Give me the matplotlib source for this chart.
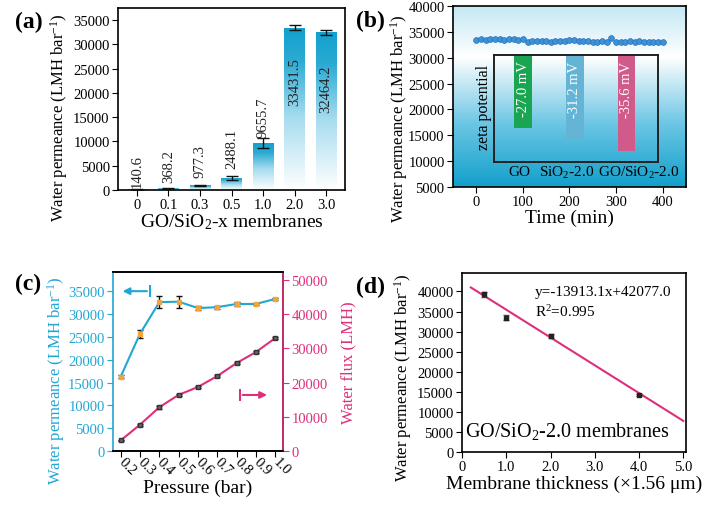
import numpy as np
import matplotlib
matplotlib.use('Agg')
import matplotlib.pyplot as plt
from matplotlib.colors import LinearSegmentedColormap

plt.rcParams['font.family'] = ['Liberation Serif', 'DejaVu Serif']
plt.rcParams['mathtext.fontset'] = 'custom'
plt.rcParams['mathtext.rm'] = 'Liberation Serif'
plt.rcParams['mathtext.it'] = 'Liberation Serif:italic'
plt.rcParams['mathtext.default'] = 'regular'
plt.rcParams['font.size'] = 10.5
plt.rcParams['axes.linewidth'] = 1.2
plt.rcParams['xtick.major.size'] = 4
plt.rcParams['ytick.major.size'] = 4
plt.rcParams['xtick.major.pad'] = 2
plt.rcParams['ytick.major.pad'] = 2

# ---- (a) permeance of GO/SiO2-x membranes
membranes = ['0', '0.1', '0.3', '0.5', '1.0', '2.0', '3.0']
perm_a = [140.6, 368.2, 977.3, 2488.1, 9655.7, 33431.5, 32464.2]
err_a = [50, 100, 150, 450, 1000, 500, 500]

# ---- (b) long-term test + zeta potential
time_b = list(range(0, 401, 10))
perm_b = [33500, 33700, 33400, 33600, 33600, 33600, 33500, 33600, 33700, 33500,
          33700, 33100, 33200, 33200, 33150, 33200, 33100, 33200, 33300, 33250,
          33400, 33500, 33300, 33150, 33200, 33100, 33000, 33200, 33000, 33900,
          33000, 33100, 33100, 33150, 33100, 33200, 33100, 33000, 33000, 33000,
          33000]
zeta_names = ['GO', 'SiO$_2$-2.0', 'GO/SiO$_2$-2.0']
zeta_vals = [-27.0, -31.2, -35.6]

# ---- (c) pressure dependence
pressure = [0.2, 0.3, 0.4, 0.5, 0.6, 0.7, 0.8, 0.9, 1.0]
perm_c = [16300, 25700, 32600, 32700, 31300, 31500, 32200, 32200, 33300]
err_c = [300, 900, 1300, 1300, 500, 300, 500, 300, 200]
flux_c = [3100, 7700, 12800, 16400, 18700, 21900, 25700, 28900, 33000]
flux_err = [200, 300, 400, 400, 300, 300, 400, 300, 300]

# ---- (d) thickness dependence
thickness = [0.5, 1.0, 2.0, 4.0]
perm_d = [39300, 33500, 28800, 14200]
err_d = [600, 600, 500, 200]
fit_x = [0.2, 5.0]
fit_y = [41000, 7750]

blue = '#22a6d3'
pink = '#de2f7c'
perm_label = 'Water permeance (LMH bar$^{-1}$)'
ylab_fs = 12
xlab_fs = 14

fig = plt.figure(figsize=(7.08, 5.06), dpi=100)

# ================= (a)
ax = fig.add_axes([0.1667, 0.6225, 0.3206, 0.3597])
xa = np.arange(len(membranes))
bar_cmap = LinearSegmentedColormap.from_list(
    'barfade', [(0, '#ffffff'), (0.45, '#a6dcef'), (0.8, '#2aaad3'), (1, '#12a1cd')])
grad = np.linspace(0, 1, 256).reshape(-1, 1)
bars = ax.bar(xa, perm_a, width=0.65, color='none', edgecolor='none')
for b in bars:
    im = ax.imshow(grad, extent=[b.get_x(), b.get_x() + b.get_width(), 0, b.get_height()],
                   origin='lower', cmap=bar_cmap, aspect='auto', zorder=1)
    im.set_clip_path(b)
ax.errorbar(xa, perm_a, yerr=err_a, fmt='none', ecolor='#111', capsize=4,
            elinewidth=1, capthick=1, zorder=3)
label_y = [700, 1600, 2700, 4600, 11000, 27300, 25900]
for i, v in enumerate(perm_a):
    va = 'bottom' if i < 5 else 'top'
    ax.text(xa[i], label_y[i], f'{v}', rotation=90, ha='center', va=va,
            fontsize=10.5, color='#222', zorder=4)
ax.set_xlim(-0.6, 6.6)
ax.set_ylim(0, 37500)
ax.set_xticks(xa)
ax.set_xticklabels(membranes)
ax.set_yticks(range(0, 35001, 5000))
ax.set_xlabel('GO/SiO$_2$-x membranes', fontsize=xlab_fs, labelpad=0)
ax.set_ylabel(perm_label, fontsize=ylab_fs, labelpad=2, y=0.40)

# ================= (b)
ax = fig.add_axes([0.6398, 0.6285, 0.3291, 0.3577])
bg_cmap = LinearSegmentedColormap.from_list(
    'bgfade', [(0, '#12a0cb'), (0.35, '#6cc6e4'), (0.72, '#ffffff'), (1, '#c4e8f4')])
ax.imshow(grad, extent=[0, 1, 0, 1], transform=ax.transAxes, origin='lower',
          cmap=bg_cmap, aspect='auto', zorder=0)
ax.plot(time_b, perm_b, 'o', ms=4.2, color='#3b92d8', mec='#2a72b8', mew=0.5, zorder=3)
ax.set_xlim(-50, 450)
ax.set_ylim(5000, 40000)
ax.set_xticks([0, 100, 200, 300, 400])
ax.set_yticks(range(5000, 40001, 5000))
ax.set_xlabel('Time (min)', fontsize=xlab_fs, labelpad=0)
ax.set_ylabel(perm_label, fontsize=ylab_fs, labelpad=-1, y=0.38)

ins = ax.inset_axes([37, 9870, 353, 20720], transform=ax.transData)
ins.patch.set_alpha(0)
for s in ins.spines.values():
    s.set_linewidth(1.4)
    s.set_color('#222')
zeta_colors = ['#1aa553', '#64b4d6', '#d05a89']
zx = np.arange(len(zeta_vals))
ins.bar(zx, zeta_vals, width=0.344, color=zeta_colors)
for i, v in enumerate(zeta_vals):
    ins.text(zx[i], -2.2, f'{v:.1f} mV', rotation=90, ha='center', va='top',
             color='white', fontsize=10.5)
ins.set_xlim(-0.577, 2.609)
ins.set_ylim(-39.6, 0)
ins.set_xticks([])
ins.set_yticks([])
ax.text(17, 20620, 'zeta potential', rotation=90, ha='center', va='center', fontsize=11.5)
for xpos, name in zip([93, 193, 349], zeta_names):
    ax.text(xpos, 7900, name, ha='center', va='center', fontsize=11)

# ================= (c)
ax = fig.add_axes([0.1596, 0.1067, 0.2401, 0.3538])
ax2 = ax.twinx()
ax.errorbar(pressure, perm_c, yerr=err_c, color=blue, lw=1.5, marker='s', ms=3.5,
            mfc='#f2a33a', mec='#f2a33a', ecolor='#111', capsize=2.5, elinewidth=1)
ax2.errorbar(pressure, flux_c, yerr=flux_err, color=pink, lw=1.5, marker='s', ms=3.5,
             mfc='#666', mec='#333', ecolor='#111', capsize=2.5, elinewidth=1)
ax.set_xlim(0.16, 1.04)
ax.set_ylim(0, 39200)
ax2.set_ylim(0, 52300)
ax.set_xticks(pressure)
ax.set_xticklabels([f'{p:.1f}' for p in pressure])
plt.setp(ax.get_xticklabels(), rotation=-45, ha='left', va='center', rotation_mode='anchor')
ax.set_yticks(range(0, 35001, 5000))
ax2.set_yticks(range(0, 50001, 10000))
ax.spines['left'].set_color(blue)
ax2.spines['left'].set_visible(False)
ax2.spines['right'].set_color(pink)
ax.tick_params(axis='y', colors=blue)
ax2.tick_params(axis='y', colors=pink)
ax.set_xlabel('Pressure (bar)', fontsize=xlab_fs, labelpad=1)
ax.set_ylabel(perm_label, fontsize=ylab_fs, color=blue, labelpad=1, y=0.40)
ax2.set_ylabel('Water flux (LMH)', fontsize=ylab_fs, color=pink, labelpad=9)
ax.annotate('', xy=(0.195, 35000), xytext=(0.35, 35000),
            arrowprops=dict(arrowstyle='-|>', color=blue, lw=1.5, mutation_scale=10))
ax.plot([0.35], [35000], marker='|', ms=9, mew=1.5, color=blue)
ax2.annotate('', xy=(0.972, 16370), xytext=(0.817, 16370),
             arrowprops=dict(arrowstyle='-|>', color=pink, lw=1.5, mutation_scale=10))
ax2.plot([0.817], [16370], marker='|', ms=9, mew=1.5, color=pink)

# ================= (d)
ax = fig.add_axes([0.6525, 0.1047, 0.3164, 0.3538])
ax.plot(fit_x, fit_y, color=pink, lw=1.5, zorder=2)
ax.errorbar(thickness, perm_d, yerr=err_d, fmt='s', ms=2.5, mfc='#222', mec='#222',
            ecolor='#5a4a1a', capsize=2.5, elinewidth=1, zorder=3)
ax.set_xlim(0, 5.06)
ax.set_ylim(0, 44600)
ax.set_xticks([0, 1, 2, 3, 4, 5])
ax.set_xticklabels(['0', '1.0', '2.0', '3.0', '4.0', '5.0'])
ax.set_yticks(range(0, 40001, 5000))
ax.text(1.65, 39900, 'y=-13913.1x+42077.0', ha='left', va='center', fontsize=11)
ax.text(1.65, 35170, 'R$^2$=0.995', ha='left', va='center', fontsize=11)
ax.text(0.07, 5300, 'GO/SiO$_2$-2.0 membranes', ha='left', va='center', fontsize=14.5)
ax.set_xlabel('Membrane thickness (×1.56 μm)', fontsize=xlab_fs, labelpad=1)
ax.set_ylabel(perm_label, fontsize=ylab_fs, labelpad=2, y=0.42)

# panel letters
for x, y, t in [(0.04, 0.955, '(a)'), (0.523, 0.957, '(b)'),
                (0.04, 0.437, '(c)'), (0.523, 0.431, '(d)')]:
    fig.text(x, y, t, fontsize=17, fontweight='bold', ha='center', va='center')

fig.savefig('out.png', dpi=100)
